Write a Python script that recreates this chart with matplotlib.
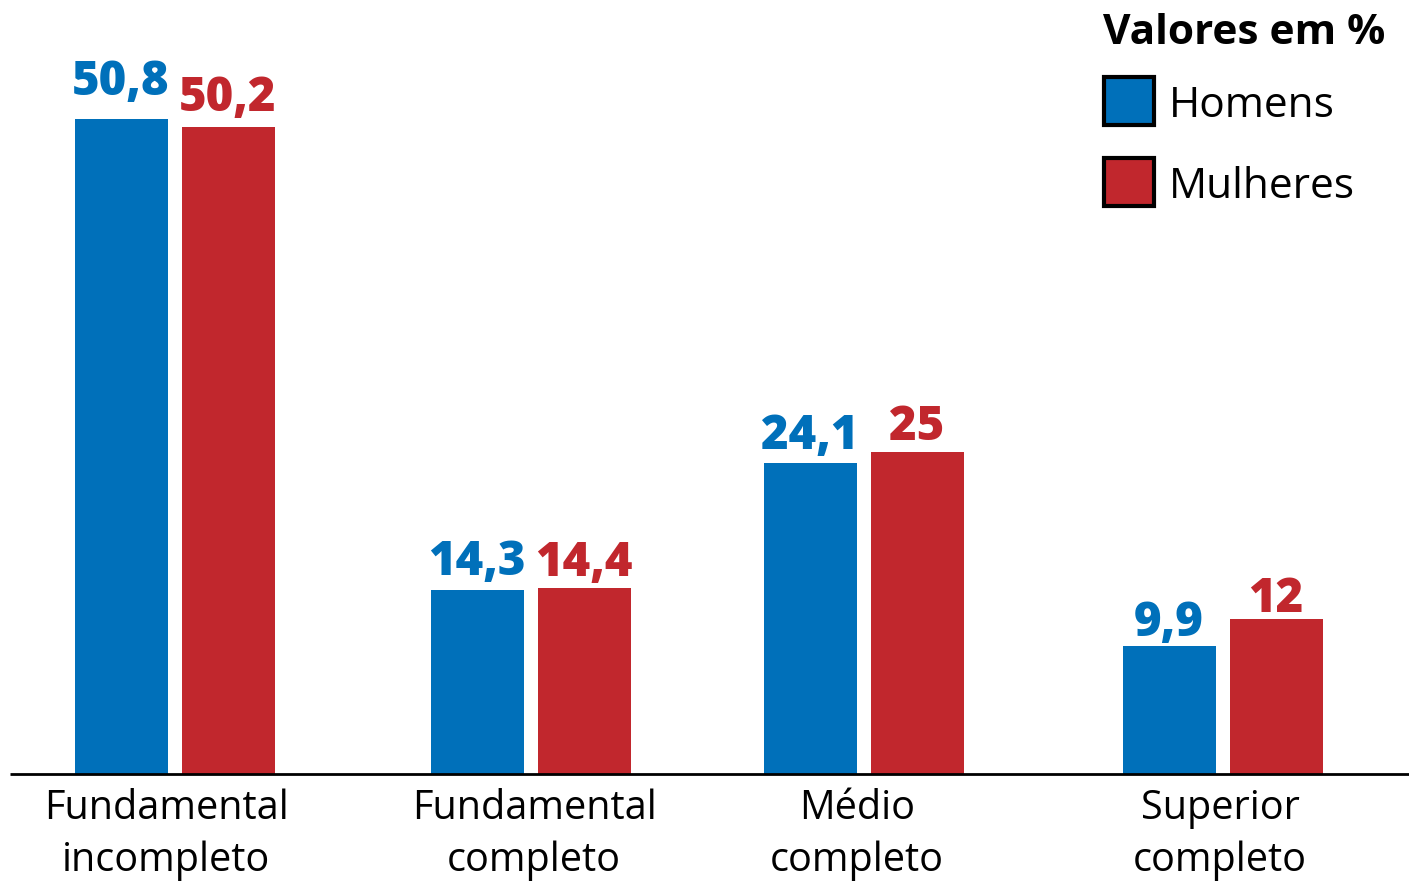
import numpy as np
import matplotlib.pyplot as plt
from matplotlib.patches import Rectangle

# data
categories = ["Fundamental\nincompleto", "Fundamental\ncompleto", "Médio\ncompleto", "Superior\ncompleto"]
homens = [50.8, 14.3, 24.1, 9.9]
mulheres = [50.2, 14.4, 25.0, 12.0]
homens_lbl = ["50,8", "14,3", "24,1", "9,9"]
mulheres_lbl = ["50,2", "14,4", "25", "12"]

BLUE = "#0070BA"
RED = "#C1272D"
FONT = "Open Sans"

# layout (pixel-like x units, uneven spacing as in original)
centers = np.array([174.5, 530.5, 863.5, 1222.5])
label_x = [166, 534, 857, 1220]
gap_h = [24, 15, 14, 10]   # px between value label baseline and bar top
gap_m = [16, 12, 12, 7]
bar_w = 93
gap = 14

fig = plt.figure(figsize=(14.09, 8.85), dpi=100)
ax = fig.add_axes([0, 0, 1, 1])
ax.set_xlim(0, 1409)
ax.set_ylim(-8.61, 60.03)
ax.axis("off")

x_h = centers - (bar_w + gap) / 2
x_m = centers + (bar_w + gap) / 2
ax.bar(x_h, homens, width=bar_w, color=BLUE)
ax.bar(x_m, mulheres, width=bar_w, color=RED)

for xs, vals, lbls, gaps, col in [(x_h, homens, homens_lbl, gap_h, BLUE),
                                  (x_m, mulheres, mulheres_lbl, gap_m, RED)]:
    for x, v, s, g in zip(xs, vals, lbls, gaps):
        ax.annotate(s, (x, v), xytext=(0, g * 0.72), textcoords="offset points",
                    ha="center", va="baseline", color=col,
                    fontsize=34, fontweight="heavy", family=FONT)

# baseline
ax.plot([10, 1409], [0, 0], color="black", linewidth=2, solid_capstyle="butt")

for lx, lab in zip(label_x, categories):
    ax.text(lx, -1.1, lab, ha="center", va="top", fontsize=28.5,
            family=FONT, linespacing=1.38)

# legend drawn manually
fig.text(1103 / 1409, 1 - 34 / 885, "Valores em %", fontsize=30.5, fontweight="bold",
         family=FONT, va="center", ha="left")
for ypix, lab, col in [(101, "Homens", BLUE), (182, "Mulheres", RED)]:
    fig.add_artist(Rectangle((1104 / 1409, 1 - (ypix + 24) / 885), 50 / 1409, 48 / 885,
                             facecolor=col, edgecolor="black", linewidth=3,
                             transform=fig.transFigure))
    fig.text(1169 / 1409, 1 - (ypix + 5) / 885, lab, fontsize=30.5, family=FONT,
             va="center", ha="left")

plt.savefig("out.png", dpi=100)
